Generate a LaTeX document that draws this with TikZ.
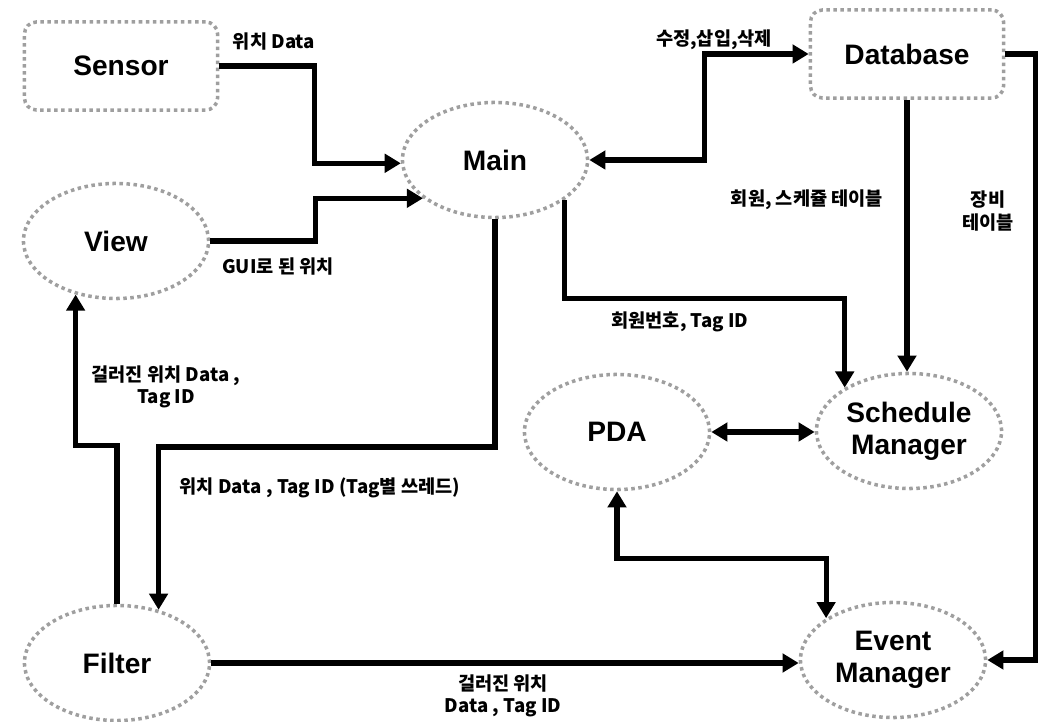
\documentclass[tikz,border=0pt]{standalone}
\usepackage{fontspec}
\setmainfont{Liberation Sans}
\newfontfamily\kr{Noto Sans CJK KR}
\usepackage{tikz}
\usetikzlibrary{shapes, arrows, arrows.meta}
\tikzstyle{block} = [rectangle, draw=gray!75, densely dotted, line width=1pt, rounded corners=0.12cm,
minimum width=1.93cm, minimum height=0.88cm, font=\fontsize{8}{9}\selectfont\bfseries]
\tikzstyle{oval} = [ellipse, draw=gray!75, densely dotted, line width=1pt, inner sep=0pt, align=center,
minimum width=1.85cm, minimum height=1.15cm, font=\fontsize{8}{9}\selectfont\bfseries]
\tikzstyle{line} = [draw, line width=1.45pt, -{Triangle[length=4.6pt,width=5.2pt]}]
\tikzstyle{dline} = [draw, line width=1.45pt, {Triangle[length=4.6pt,width=5.2pt]}-{Triangle[length=4.6pt,width=5.2pt]}]
\tikzstyle{lbl} = [font=\kr\fontsize{5.3}{6.4}\selectfont\bfseries, align=center, inner sep=0pt]

\begin{document}
\begin{tikzpicture}[x=0.01cm, y=-0.01cm]
	\useasboundingbox (0,0) rectangle (1045,722);

	% Place nodes
	\node [block] 	(Sensor) 	at (121,66) 	{Sensor};
	\node [block] 	(Database) 	at (907,54) 	{Database};
	\node [oval] 	(Main) 		at (495,160) 	{Main};
	\node [oval] 	(View) 		at (116,241) 	{View};
	\node [oval] 	(Filter) 	at (117,663) 	{Filter};
	\node [oval] 	(PDA) 		at (617,432) 	{PDA};
	\node [oval] 	(Schedule) 	at (909,431) 	{Schedule\\Manager};
	\node [oval] 	(Event) 	at (893,660) 	{Event\\Manager};

	% Labels
	\node [lbl] (lSensor) 	at (274,42) 	{위치 Data};
	\node [lbl] (lView) 	at (278,267) 	{GUI로 된 위치};
	\node [lbl] (lDB) 		at (714,40) 	{수정,삽입,삭제};
	\node [lbl] (lTable) 	at (807,200) 	{회원, 스케쥴 테이블};
	\node [lbl] (lEquip) 	at (988,211) 	{장비\\테이블};
	\node [lbl] (lMember) 	at (680,322) 	{회원번호, Tag ID};
	\node [lbl] (lFiltered) at (166,387) 	{걸러진 위치 Data ,\\Tag ID};
	\node [lbl] (lThread) 	at (320,488) 	{위치 Data , Tag ID (Tag별 쓰레드)};
	\node [lbl] (lEvent) 	at (503,696) 	{걸러진 위치\\Data , Tag ID};

	%Draw edges
	\path [line] (Sensor.east) 	-- ++(95,0) |- (Main.182);
	\path [line] (View.east) 	-- ++(105,0) |- (Main.208);
	\path [dline] (Main.east) 	-- ++(115,0) |- (Database.west);
	\path [line] (Main.south) 	-- (Main.south |- 0,447) -| (Filter.52);
	\path [line] (Filter.north) -- ++(0,-158) -| (View.233);
	\path [line] (Main.330) 	-- ++(0,98) -| (Schedule.146);
	\path [line] (Database.south) -- (Database.south |- Schedule.north);
	\path [line] (Database.east) -- ++(30,0) |- (Event.east);
	\path [dline] (PDA.east) 	-- (PDA.east -| Schedule.west);
	\path [dline] (PDA.south) 	-- ++(0,67) -| (Event.148);
	\path [line] (Filter.east) 	-- (Filter.east -| Event.west);

\end{tikzpicture}
\end{document}
